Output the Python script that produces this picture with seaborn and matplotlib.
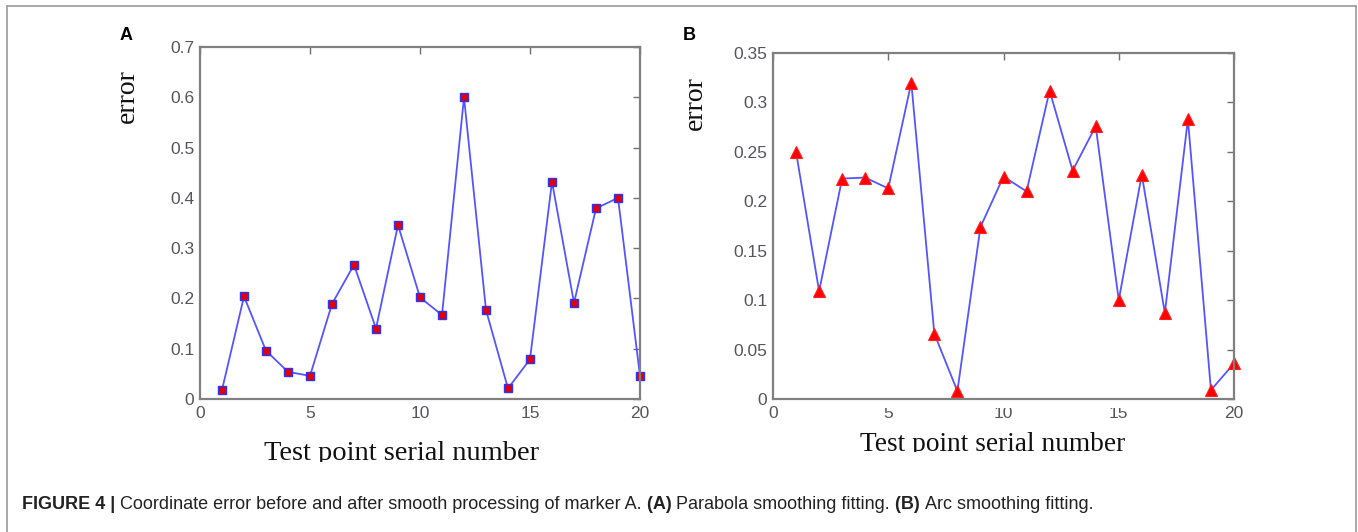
import numpy as np
import matplotlib
matplotlib.use("Agg")
import matplotlib.pyplot as plt
import seaborn as sns
from matplotlib.transforms import Bbox
from matplotlib.lines import Line2D

# ---------------- data ----------------
points = list(range(1, 21))
error_parabola = [0.018, 0.204, 0.096, 0.054, 0.046, 0.189, 0.267, 0.140, 0.346, 0.202,
                  0.167, 0.600, 0.177, 0.021, 0.079, 0.432, 0.191, 0.379, 0.400, 0.046]
error_arc = [0.250, 0.109, 0.223, 0.224, 0.213, 0.320, 0.066, 0.008, 0.174, 0.225,
             0.210, 0.312, 0.231, 0.276, 0.100, 0.227, 0.087, 0.283, 0.009, 0.036]

x_ticks = [0, 5, 10, 15, 20]
x_tick_labels = ["0", "5", "10", "15", "20"]
yA_ticks = [0, 0.1, 0.2, 0.3, 0.4, 0.5, 0.6, 0.7]
yA_tick_labels = ["0", "0.1", "0.2", "0.3", "0.4", "0.5", "0.6", "0.7"]
yB_ticks = [0, 0.05, 0.1, 0.15, 0.2, 0.25, 0.3, 0.35]
yB_tick_labels = ["0", "0.05", "0.1", "0.15", "0.2", "0.25", "0.3", "0.35"]

x_label = "Test point serial number"
y_label = "error"
caption_parts = [("FIGURE 4 | ", True),
                 ("Coordinate error before and after smooth processing of marker A. ", False),
                 ("(A) ", True), ("Parabola smoothing fitting. ", False),
                 ("(B) ", True), ("Arc smoothing fitting.", False)]

# ---------------- style ----------------
sns.set_style("white")
plt.rcParams["font.family"] = ["Liberation Sans", "DejaVu Sans"]

W, H, DPI = 1358, 532, 100
fig = plt.figure(figsize=(W / DPI, H / DPI), dpi=DPI)
fig.patch.set_facecolor("white")

def px_axes(l, t, r, b):
    return fig.add_axes([l / W, 1 - b / H, (r - l) / W, (b - t) / H])

axA = px_axes(200, 47, 640, 399)
axB = px_axes(773, 53, 1234, 399)

line_col = "#5555ff"
spine_col = "#808080"
tick_lab_col = "#55555f"

sns.lineplot(x=points, y=error_parabola, ax=axA, color=line_col, lw=1.3,
             marker="s", markersize=6, markerfacecolor="#e00000",
             markeredgecolor="#3030ff", markeredgewidth=1.0, clip_on=False)
sns.lineplot(x=points, y=error_arc, ax=axB, color=line_col, lw=1.3,
             marker="^", markersize=8, markerfacecolor="#ff0000",
             markeredgecolor="#ff2020", markeredgewidth=0.8, clip_on=False)

for ax, yt, ytl, ymax in [(axA, yA_ticks, yA_tick_labels, 0.7),
                          (axB, yB_ticks, yB_tick_labels, 0.35)]:
    ax.set_xlim(0, 20)
    ax.set_ylim(0, ymax)
    ax.set_xticks(x_ticks)
    ax.set_xticklabels(x_tick_labels)
    ax.set_yticks(yt)
    ax.set_yticklabels(ytl)
    ax.tick_params(direction="in", top=True, right=True, length=5, width=1.0,
                   color="#707070", labelsize=12.5, labelcolor=tick_lab_col)
    ax.tick_params(axis="x", pad=5)
    ax.tick_params(axis="y", pad=4)
    for s in ax.spines.values():
        s.set_color(spine_col)
        s.set_linewidth(1.6)
        s.set_visible(True)
    ax.set_xlabel("")
    ax.set_ylabel("")
    ax.grid(False)

# partially hidden middle x tick labels in panel B
clip = Bbox([[0, 0], [W, H - 408]])
for lab in axB.get_xticklabels()[1:4]:
    lab.set_clip_box(clip)
    lab.set_clip_on(True)

# axis titles (serif), clipped at bottom like the source image
serif = ["Liberation Serif", "DejaVu Serif"]
fig.text(127 / W, 1 - 96 / H, y_label, rotation=90, ha="center", va="center",
         fontsize=20, family=serif, color="#111111")
fig.text(695 / W, 1 - 103 / H, y_label, rotation=90, ha="center", va="center",
         fontsize=20, family=serif, color="#111111")

tA = fig.text(402 / W, 1 - 460 / H, x_label, ha="center", va="baseline",
              fontsize=20.5, family=serif, color="#111111")
tA.set_clip_box(Bbox([[0, H - 462], [W, H]]))
tA.set_clip_on(True)
tB = fig.text(993 / W, 1 - 451 / H, x_label, ha="center", va="baseline",
              fontsize=19.7, family=serif, color="#111111")
tB.set_clip_box(Bbox([[0, H - 452], [W, H]]))
tB.set_clip_on(True)

# panel letters
fig.text(120 / W, 1 - 36 / H, "A", ha="left", va="center", fontsize=13,
         fontweight="bold", color="black")
fig.text(683 / W, 1 - 36 / H, "B", ha="left", va="center", fontsize=13,
         fontweight="bold", color="black")

# outer frame (top, left, right)
frame_col = "#9a9a9a"
fig.add_artist(Line2D([7 / W, 7 / W], [0, 1 - 6 / H], color=frame_col, lw=1.2,
                      transform=fig.transFigure))
fig.add_artist(Line2D([7 / W, 1356 / W], [1 - 6 / H, 1 - 6 / H], color=frame_col,
                      lw=1.2, transform=fig.transFigure))
fig.add_artist(Line2D([1356 / W, 1356 / W], [0, 1 - 6 / H], color=frame_col,
                      lw=1.2, transform=fig.transFigure))

# caption with mixed bold / regular runs
narrow = ["Liberation Sans Narrow", "Liberation Sans", "DejaVu Sans"]
renderer = fig.canvas.get_renderer()
xpos = 22
cap_fs = 12.95
for txt, bold in caption_parts:
    t = fig.text(xpos / W, 1 - 509 / H, txt, ha="left", va="baseline",
                 fontsize=cap_fs, family=narrow,
                 fontweight="bold" if bold else "normal", color="#222222")
    bb = t.get_window_extent(renderer)
    xpos += bb.width

fig.savefig("out.png", dpi=DPI, facecolor="white")
